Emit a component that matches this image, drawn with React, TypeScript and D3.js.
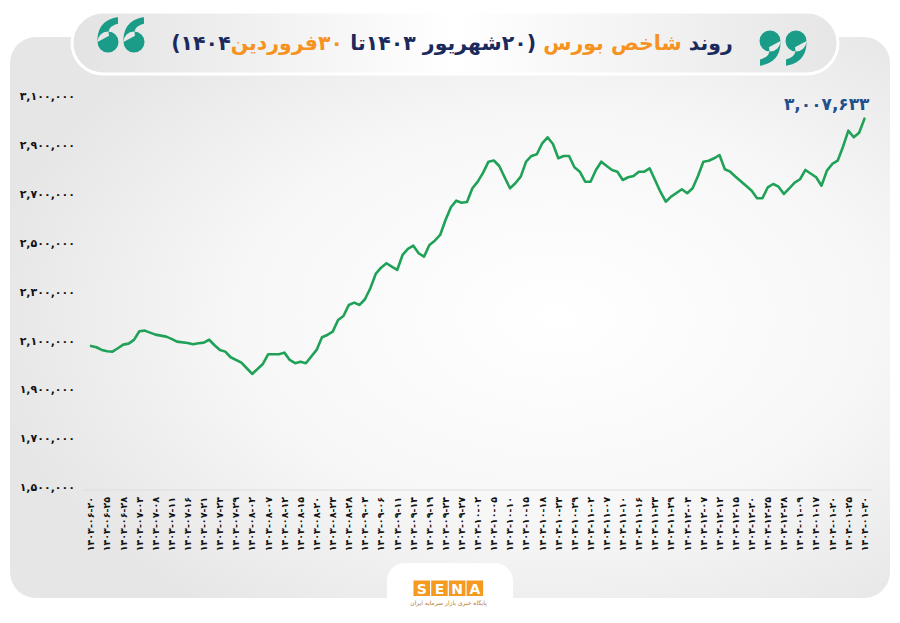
import { useEffect, useRef } from 'react';
import * as d3 from 'd3';

// trading session number (0 = 1403-06-20) and index value
const sessions = [
  0, 1, 2, 3, 4, 5, 6, 7, 8, 9, 10, 11, 12, 14, 15, 16, 18, 19, 20, 21, 22, 23, 24, 25, 26, 28, 29, 30,
  32, 33, 35, 36, 37, 38, 39, 40, 42, 43, 44, 45, 46, 47, 48, 49, 50, 51, 52, 53, 54, 55, 56, 57, 58, 59,
  60, 61, 62, 63, 64, 65, 66, 67, 68, 69, 70, 71, 72, 73, 74, 75, 76, 77, 78, 79, 80, 81, 82, 83, 84, 85,
  86, 87, 88, 89, 90, 91, 92, 93, 94, 95, 96, 97, 98, 99, 100, 101, 102, 103, 104, 105, 106, 107, 108,
  110, 111, 112, 113, 114, 115, 116, 117, 118, 119, 120, 122, 123, 124, 125, 126, 127, 128, 129, 130,
  131, 132, 133, 135, 136, 137, 138, 139, 140, 141, 142, 143, 144,
];
const indexValues = [
  2078500, 2073200, 2062200, 2056900, 2055300, 2069200, 2083900, 2087900, 2103100, 2138600, 2141100,
  2132900, 2124700, 2116500, 2107200, 2096100, 2090800, 2085500, 2089600, 2092000, 2103900, 2081400,
  2062200, 2055300, 2032400, 2010300, 1987400, 1964100, 2005000, 2044600, 2044600, 2051200, 2021300,
  2007900, 2014400, 2007900, 2062200, 2114100, 2123500, 2137000, 2184800, 2201100, 2246100, 2255500,
  2246100, 2269400, 2314300, 2372700, 2398500, 2416400, 2402600, 2389100, 2450400, 2474900, 2488400,
  2457300, 2443400, 2491200, 2508800, 2532100, 2593400, 2645300, 2672200, 2664000, 2666900, 2722900,
  2749800, 2786600, 2831600, 2836500, 2814000, 2767800, 2722900, 2743300, 2770300, 2831600, 2854900,
  2861800, 2906700, 2931300, 2903900, 2845500, 2854900, 2854900, 2808700, 2790700, 2749800, 2749800,
  2797700, 2831600, 2814000, 2797700, 2790700, 2756800, 2767800, 2773100, 2790700, 2790700, 2804600,
  2756800, 2709000, 2668100, 2688600, 2718800, 2702500, 2722900, 2773100, 2831600, 2835600, 2845500,
  2858900, 2800500, 2790700, 2770300, 2732300, 2712700, 2682000, 2682000, 2727000, 2740400, 2729400,
  2699600, 2722900, 2745800, 2759700, 2797700, 2767800, 2733500, 2794800, 2822200, 2835600, 2892900,
  2958200, 2931300, 2950100, 3007633,
];

// one label every third session
const dateLabels = [
  '1403-06-20', '1403-06-25', '1403-06-28', '1403-07-03', '1403-07-08', '1403-07-11', '1403-07-16',
  '1403-07-21', '1403-07-24', '1403-07-29', '1403-08-02', '1403-08-07', '1403-08-12', '1403-08-15',
  '1403-08-20', '1403-08-23', '1403-08-28', '1403-09-03', '1403-09-06', '1403-09-11', '1403-09-14',
  '1403-09-19', '1403-09-24', '1403-09-27', '1403-10-02', '1403-10-05', '1403-10-10', '1403-10-15',
  '1403-10-18', '1403-10-23', '1403-10-29', '1403-11-02', '1403-11-07', '1403-11-10', '1403-11-16',
  '1403-11-23', '1403-11-29', '1403-12-04', '1403-12-07', '1403-12-12', '1403-12-15', '1403-12-20',
  '1403-12-25', '1403-12-28', '1404-01-09', '1404-01-17', '1404-01-20', '1404-01-25', '1404-01-30',
];
const yTicks = [1500000, 1700000, 1900000, 2100000, 2300000, 2500000, 2700000, 2900000, 3100000];

const titleParts = [
  { t: 'روند ', c: '#1b2a5c' },
  { t: 'شاخص بورس', c: '#f6921e' },
  { t: ' (۲۰شهریور ۱۴۰۳تا ', c: '#1b2a5c' },
  { t: '۳۰فروردین', c: '#f6921e' },
  { t: '۱۴۰۴)', c: '#1b2a5c' },
];

const fa = (s: string) => s.replace(/\d/g, d => '۰۱۲۳۴۵۶۷۸۹'[+d]);
const FONT = '"DejaVu Sans", sans-serif';

// an opening-quote "6" blob: bulb plus a tail curling up to the right
function quote6(cx: number, cy: number, r: number) {
  return `M${cx - r},${cy} A${r},${r} 0 1,0 ${cx + r},${cy} A${r},${r} 0 1,0 ${cx - r},${cy} Z ` +
    `M${cx - r},${cy} C${cx - r * 1.05},${cy - r * 1.5} ${cx - r * 0.2},${cy - r * 2.2} ${cx + r * 0.95},${cy - r * 2.35} ` +
    `L${cx + r * 0.95},${cy - r * 1.75} C${cx + r * 0.2},${cy - r * 1.55} ${cx - r * 0.05},${cy - r * 1.2} ${cx + r * 0.1},${cy - r * 0.6} Z`;
}

const App = () => {
  const svgRef = useRef(null);

  useEffect(() => {
    if (!svgRef.current) return;
    const svg = d3.select(svgRef.current);
    svg.selectAll('*').remove();

    const defs = svg.append('defs');
    const rg = defs.append('radialGradient').attr('id', 'panelGrad')
      .attr('cx', 0.62).attr('cy', 0.5).attr('r', 0.65);
    rg.append('stop').attr('offset', 0).attr('stop-color', '#ffffff');
    rg.append('stop').attr('offset', 0.55).attr('stop-color', '#f7f7f7');
    rg.append('stop').attr('offset', 1).attr('stop-color', '#e6e6e6');
    const pg = defs.append('linearGradient').attr('id', 'pillGrad');
    pg.append('stop').attr('offset', 0).attr('stop-color', '#e3e3e3');
    pg.append('stop').attr('offset', 0.5).attr('stop-color', '#ffffff');
    pg.append('stop').attr('offset', 1).attr('stop-color', '#e6e6e6');

    svg.append('rect').attr('width', 900).attr('height', 623).attr('fill', '#ffffff');
    svg.append('rect').attr('x', 10).attr('y', 37).attr('width', 880).attr('height', 561)
      .attr('rx', 26).attr('fill', 'url(#panelGrad)');

    // title pill
    svg.append('rect').attr('x', 72).attr('y', 12).attr('width', 766).attr('height', 62)
      .attr('rx', 31).attr('fill', 'url(#pillGrad)').attr('stroke', '#ffffff').attr('stroke-width', 3);
    const teal = '#1a9c89';
    [108, 134].forEach(cx => svg.append('path').attr('d', quote6(cx, 42, 10.5)).attr('fill', teal));
    [770, 796].forEach(cx => svg.append('path').attr('d', quote6(cx, 41, 10.5))
      .attr('transform', `rotate(180,${cx},41)`).attr('fill', teal));

    const title = svg.append('text').attr('x', 452).attr('y', 50)
      .attr('text-anchor', 'middle').attr('direction', 'rtl')
      .style('direction', 'rtl').style('unicode-bidi', 'embed')
      .attr('font-family', FONT).attr('font-weight', 'bold').attr('font-size', 20.5);
    titleParts.forEach(p => title.append('tspan').attr('fill', p.c).text(p.t));

    const x = d3.scaleLinear().domain([0, 144]).range([91, 864.5]);
    const y = d3.scaleLinear().domain([1500000, 3100000]).range([487.5, 96]);

    // y tick labels
    svg.append('g').selectAll('text').data(yTicks).enter().append('text')
      .attr('x', 75).attr('y', d => y(d)).attr('dy', '0.35em')
      .attr('text-anchor', 'end').attr('font-family', FONT).attr('font-weight', 'bold')
      .attr('font-size', 11).attr('fill', '#111')
      .text(d => fa(d3.format(',')(d)));

    // x baseline
    svg.append('line').attr('x1', 84).attr('x2', 872).attr('y1', 490).attr('y2', 490)
      .attr('stroke', '#dedede').attr('stroke-width', 1);

    // x tick labels
    svg.append('g').selectAll('text').data(dateLabels).enter().append('text')
      .attr('transform', (d, i) => `translate(${x(i * 3)},497) rotate(-90)`)
      .attr('dy', '0.35em').attr('text-anchor', 'end')
      .attr('font-family', FONT).attr('font-weight', 'bold').attr('font-size', 9.5).attr('fill', '#111')
      .text(d => fa(d));

    const pts = sessions.map((s, i) => [s, indexValues[i]] as [number, number]);
    const line = d3.line<[number, number]>().x(d => x(d[0])).y(d => y(d[1]));
    svg.append('path').datum(pts).attr('d', line).attr('fill', 'none')
      .attr('stroke', '#1fa257').attr('stroke-width', 2.6)
      .attr('stroke-linejoin', 'round').attr('stroke-linecap', 'round');

    const last = pts[pts.length - 1];
    svg.append('text').attr('x', x(last[0]) + 5).attr('y', y(last[1]) - 9)
      .attr('text-anchor', 'end').attr('font-family', FONT).attr('font-weight', 'bold')
      .attr('font-size', 17).attr('fill', '#22508a')
      .text(fa(d3.format(',')(last[1])));

    // logo tab
    svg.append('rect').attr('x', 387).attr('y', 563).attr('width', 126).attr('height', 60)
      .attr('rx', 18).attr('fill', '#ffffff');
    svg.append('rect').attr('x', 0).attr('y', 598).attr('width', 900).attr('height', 25).attr('fill', '#ffffff');
    'SENA'.split('').forEach((ch, i) => {
      const bx = 413.5 + i * 17.7;
      svg.append('rect').attr('x', bx).attr('y', 580.5).attr('width', 16.5).attr('height', 15.5)
        .attr('fill', '#f49a20');
      svg.append('text').attr('x', bx + 8.25).attr('y', 593.5).attr('text-anchor', 'middle')
        .attr('font-family', '"DejaVu Sans", sans-serif').attr('font-weight', 'bold')
        .attr('font-size', 14).attr('fill', '#ffffff').text(ch);
    });
    svg.append('text').attr('x', 448.5).attr('y', 605).attr('text-anchor', 'middle')
      .attr('direction', 'rtl').attr('font-family', FONT).attr('font-size', 6).attr('fill', '#b07a3a')
      .text('پایگاه خبری بازار سرمایه ایران');
  }, []);

  return (
    <svg ref={svgRef} width={900} height={623} style={{ position: 'absolute', left: 0, top: 0 }}></svg>
  );
};

export default App;
